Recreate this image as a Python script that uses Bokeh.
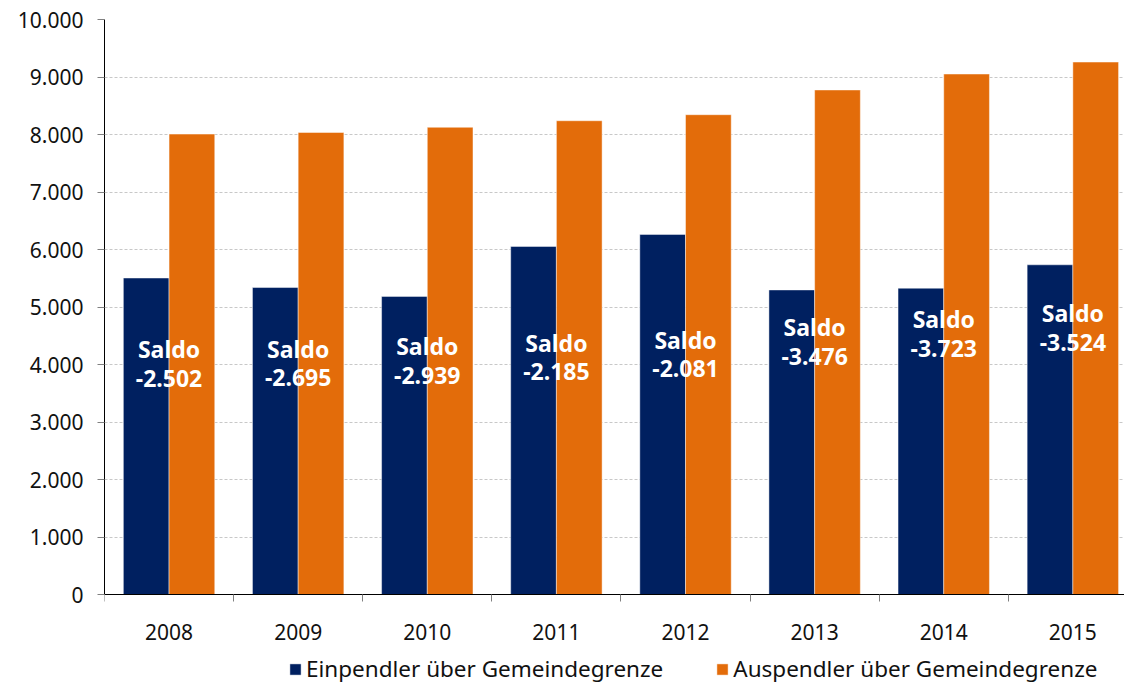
from bokeh.plotting import figure
from bokeh.models import Range1d, FixedTicker, Legend, LegendItem, ColumnDataSource
from bokeh.core.properties import value
from bokeh.embed import file_html
from bokeh.resources import INLINE

# ---- data ----
years = ["2008", "2009", "2010", "2011", "2012", "2013", "2014", "2015"]
einpendler = [5506, 5341, 5187, 6055, 6264, 5299, 5329, 5736]
auspendler = [8008, 8036, 8126, 8240, 8345, 8775, 9052, 9260]
y_ticks = [0, 1000, 2000, 3000, 4000, 5000, 6000, 7000, 8000, 9000, 10000]
y_tick_labels = ["0", "1.000", "2.000", "3.000", "4.000", "5.000",
                 "6.000", "7.000", "8.000", "9.000", "10.000"]
series_names = ["Einpendler über Gemeindegrenze", "Auspendler über Gemeindegrenze"]
saldo_word = "Saldo"

BLUE = "#002060"
ORANGE = "#E36C0A"
FONT = "Noto Sans"
TEXT = "#111111"


def fmt(v):
    return f"{v:,}".replace(",", ".")


n = len(years)
centers = [i + 0.5 for i in range(n)]
bw = 0.354
saldo = [e - a for e, a in zip(einpendler, auspendler)]

src = ColumnDataSource(dict(
    xc=centers,
    xe=[c - bw / 2 for c in centers],
    xa=[c + bw / 2 for c in centers],
    ein=einpendler,
    aus=auspendler,
    half=[a / 2 for a in auspendler],
    saldo=[fmt(s) for s in saldo],
))

# frame extends below the zero line so that the legend can sit inside it
p = figure(width=1124, height=685,
           x_range=Range1d(0, 7.9), y_range=Range1d(-1577, 10000),
           output_backend="svg", toolbar_location=None,
           min_border_left=104, min_border_right=0,
           min_border_top=19, min_border_bottom=0)
p.outline_line_color = None
p.background_fill_color = "white"
p.border_fill_color = "white"

# grid
p.xgrid.grid_line_color = None
p.ygrid.ticker = FixedTicker(ticks=y_ticks)
p.ygrid.grid_line_color = "#C8C8C8"
p.ygrid.grid_line_dash = "3 2"
p.ygrid.grid_line_width = 1

# y axis
ya = p.yaxis[0]
ya.ticker = FixedTicker(ticks=y_ticks)
ya.bounds = (0, 10000)
ya.major_label_overrides = {t: l for t, l in zip(y_ticks, y_tick_labels)}
ya.major_tick_out = 7
ya.major_tick_in = 0
ya.major_tick_line_color = "#808080"
ya.minor_tick_line_color = None
ya.axis_line_color = "black"
ya.major_label_standoff = 14
ya.major_label_text_font = FONT
ya.major_label_text_font_size = "21px"
ya.major_label_text_color = TEXT

# x axis drawn at y = 0
xa = p.xaxis[0]
xa.fixed_location = 0
xa.ticker = FixedTicker(ticks=centers, minor_ticks=list(range(0, n + 1)))
xa.major_label_overrides = {c: y for c, y in zip(centers, years)}
xa.major_tick_out = 0
xa.major_tick_in = 0
xa.minor_tick_out = 7
xa.minor_tick_in = 0
xa.minor_tick_line_color = "#808080"
xa.axis_line_color = "black"
xa.major_label_standoff = 22
xa.major_label_text_font = FONT
xa.major_label_text_font_size = "21px"
xa.major_label_text_color = TEXT

# bars
r1 = p.vbar(x="xe", width=bw, top="ein", bottom=0, source=src,
            fill_color=BLUE, line_color="white", line_alpha=0.45, line_width=1)
r2 = p.vbar(x="xa", width=bw, top="aus", bottom=0, source=src,
            fill_color=ORANGE, line_color="white", line_alpha=0.45, line_width=1)

# saldo labels
p.text(x="xc", y="half", text=value(saldo_word), source=src,
       text_font=value(FONT), text_font_style="bold", text_color="white",
       text_font_size="23px", text_align="center", text_baseline="alphabetic",
       y_offset=-15)
p.text(x="xc", y="half", text="saldo", source=src,
       text_font=value(FONT), text_font_style="bold", text_color="white",
       text_font_size="23px", text_align="center", text_baseline="alphabetic",
       y_offset=14)

legend = Legend(items=[LegendItem(label=series_names[0], renderers=[r1]),
                       LegendItem(label=series_names[1], renderers=[r2])],
                orientation="horizontal", location=(184, 1),
                label_text_font=FONT, label_text_font_size="22.5px",
                label_text_color=TEXT,
                glyph_width=14, glyph_height=14, label_height=22,
                label_standoff=4, spacing=52, padding=0, margin=0,
                border_line_color=None, background_fill_alpha=0)
p.add_layout(legend)

open("out.html", "w").write(file_html(p, INLINE))
